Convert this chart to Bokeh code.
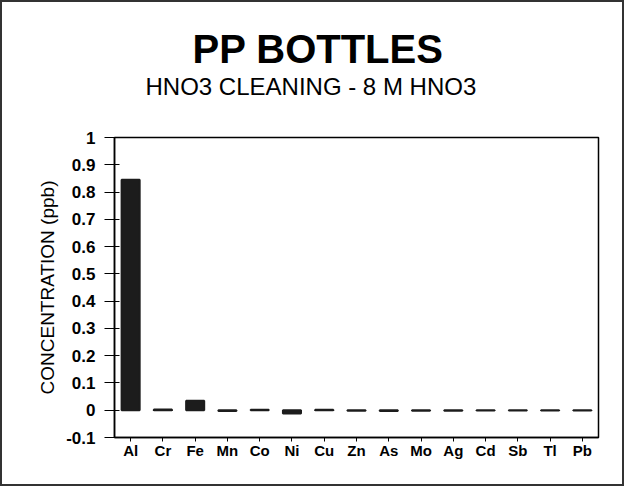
from bokeh.plotting import figure
from bokeh.models import FactorRange, Range1d, FixedTicker, Title
from bokeh.embed import file_html
from bokeh.resources import INLINE

elements = ["Al", "Cr", "Fe", "Mn", "Co", "Ni", "Cu", "Zn", "As", "Mo", "Ag", "Cd", "Sb", "Tl", "Pb"]
concentration = [0.845, 0.003, 0.035, -0.003, 0.002, -0.012, 0.002, -0.002, -0.003, -0.002, -0.002, -0.001, -0.001, -0.001, -0.001]
y_ticks = [-0.1, 0.0, 0.1, 0.2, 0.3, 0.4, 0.5, 0.6, 0.7, 0.8, 0.9, 1.0]
y_tick_labels = ["-0.1", "0", "0.1", "0.2", "0.3", "0.4", "0.5", "0.6", "0.7", "0.8", "0.9", "1"]
title_text = "PP BOTTLES"
subtitle_text = "HNO3 CLEANING  -  8 M HNO3"
y_label = "CONCENTRATION (ppb)"

FONT = "Liberation Sans"

p = figure(width=620, height=482, output_backend="svg", toolbar_location=None,
           x_range=FactorRange(*elements, range_padding=0), y_range=Range1d(-0.1, 1.0),
           min_border_left=112, min_border_right=28, min_border_top=10, min_border_bottom=51)
p.styles = {"border": "2px solid #333", "box-sizing": "content-box"}
p.background_fill_color = "white"
p.border_fill_color = "white"
p.outline_line_color = "black"
p.outline_line_width = 1.5
p.grid.visible = False

p.vbar(x=elements, top=concentration, bottom=0, width=0.56,
       fill_color="#1c1c1c", line_color="#1c1c1c", line_width=2)

yax = p.yaxis[0]
yax.ticker = FixedTicker(ticks=y_ticks)
yax.major_label_overrides = {t: l for t, l in zip(y_ticks, y_tick_labels)}
yax.minor_tick_line_color = None
yax.major_tick_in = 5
yax.major_tick_out = 10
yax.major_tick_line_width = 1.2
yax.axis_line_width = 1.5
yax.major_label_text_font = FONT
yax.major_label_text_font_style = "bold"
yax.major_label_text_font_size = "17px"
yax.major_label_text_color = "black"
yax.major_label_standoff = 9
yax.axis_label = y_label
yax.axis_label_text_font = FONT
yax.axis_label_text_font_style = "normal"
yax.axis_label_text_font_size = "19px"
yax.axis_label_text_color = "black"
yax.axis_label_standoff = 5

xax = p.xaxis[0]
xax.major_tick_in = 0
xax.major_tick_out = 4
xax.axis_line_width = 1.5
xax.major_label_text_font = FONT
xax.major_label_text_font_style = "bold"
xax.major_label_text_font_size = "15px"
xax.major_label_text_color = "black"
xax.major_label_standoff = 0

# titles (stacked outward from the frame), no standoff; spacing via blank titles
p.add_layout(Title(text=" ", text_font_size="32px", standoff=0), "above")
p.add_layout(Title(text=subtitle_text, align="left", offset=31, text_font=FONT, standoff=0,
                   text_font_style="normal", text_font_size="24px", text_color="black"), "above")
p.add_layout(Title(text=title_text, align="left", offset=78, text_font=FONT, standoff=0,
                   text_font_style="bold", text_font_size="40px", text_color="black"), "above")
p.add_layout(Title(text=" ", text_font_size="18px", standoff=0), "above")

open("out.html", "w").write(file_html(p, INLINE))
